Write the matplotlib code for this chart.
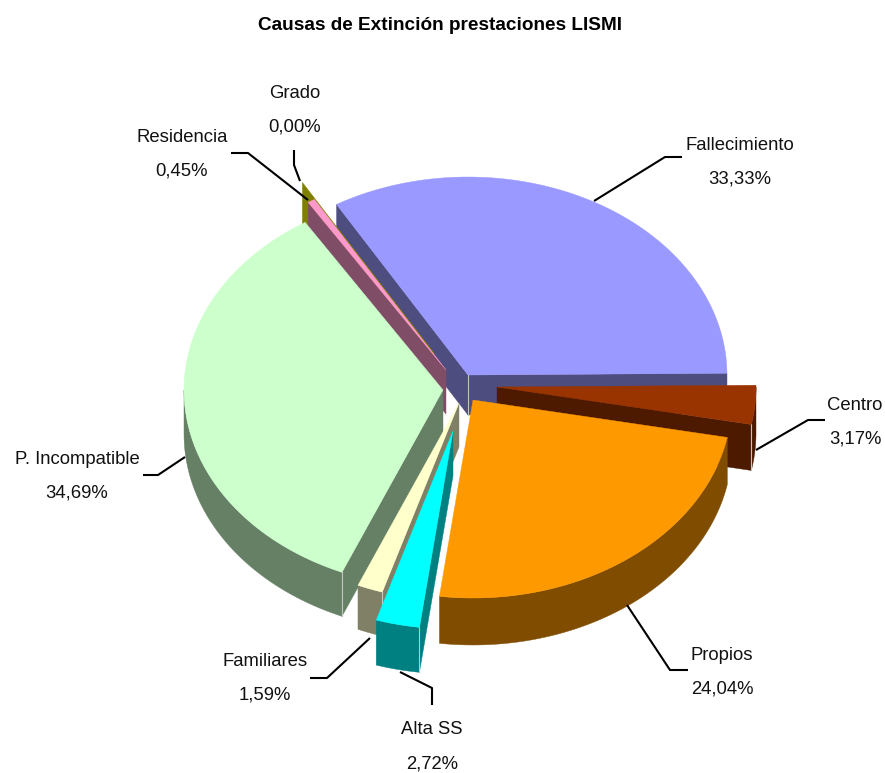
#Causas de extincion prestaciones LISMI - tarta 3D con porciones separadas
import numpy as np
import matplotlib
matplotlib.use("Agg")
import matplotlib.pyplot as plt
from matplotlib.patches import Polygon

#Datos
causas=["Fallecimiento","Centro","Propios","Alta SS","Familiares","P. Incompatible","Residencia","Grado"]
porcentajes=[33.33,3.17,24.04,2.72,1.59,34.69,0.45,0.00]

#Estilo
colores=["#9999FF","#993300","#FF9900","#00FFFF","#FFFFCC","#CCFFCC","#FF99CC","#808000"]
laterales=["#4D4D80","#4D1A00","#804D00","#008080","#808066","#668066","#804D66","#808000"]
centros=[(468,375),(497,387),(473,400),(453,431),(459,403),(443,390),(446,370),(434,353)]
alturas=[40,46,47,45,44,44,44,42]
orden=[0,7,6,5,4,3,1,2]
inicio=-30.5
radioX=259
radioY=198

#Posicion de los textos y guias
textos=[(740,145),(855,405),(722,655),(432,730),(265,661),(77,459),(182,137),(295,93)]
guias=[
    [(594,201),(665,157),(682,157)],
    [(756,450),(808,420),(825,420)],
    [(627,605),(670,670),(688,670)],
    [(400,672),(432,688),(432,705)],
    [(370,638),(327,678),(310,678)],
    [(185,457),(158,475),(143,475)],
    [(308,200),(248,153),(231,153)],
    [(300,181),(294,165),(294,150)]
]

plt.rcParams["font.family"]=["Liberation Sans","DejaVu Sans"]
fig=plt.figure(figsize=(8.85,7.73),dpi=100)
ax=fig.add_axes([0,0,1,1])
ax.set_xlim(0,885)
ax.set_ylim(773,0)
ax.axis("off")

def punto(c,ang):
    t=np.radians(ang)
    return (c[0]+radioX*np.sin(t),c[1]-radioY*np.cos(t))

def cara(puntos,color,z):
    ax.add_patch(Polygon(puntos,closed=True,facecolor=color,edgecolor=color,linewidth=0.3,zorder=z))

def arista(p,h,z):
    #linea clara en las esquinas verticales
    ax.plot([p[0],p[0]],[p[1],p[1]+h],color="#C4C4C4",lw=0.8,zorder=z)

#Angulos de cada porcion
angulos=[]
a=inicio
for p in porcentajes:
    angulos.append((a,a+p*3.6))
    a+=p*3.6

z=1
for i in orden:
    c=centros[i]
    h=alturas[i]
    a0,a1=angulos[i]
    ver0=np.cos(np.radians(a0-90))<0
    ver1=np.cos(np.radians(a1+90))<0
    #cortes laterales, solo los que miran al frente
    if ver0:
        p=punto(c,a0)
        cara([c,p,(p[0],p[1]+h),(c[0],c[1]+h)],laterales[i],z)
    if ver1:
        p=punto(c,a1)
        cara([c,p,(p[0],p[1]+h),(c[0],c[1]+h)],laterales[i],z)
    if ver0 and ver1 and a1>a0:
        arista(c,h,z+0.05)
    #borde exterior
    ini=max(a0,90)
    fin=min(a1,270)
    if fin>ini:
        arco=[punto(c,t) for t in np.linspace(ini,fin,60)]
        cara(arco+[(x,y+h) for x,y in arco[::-1]],laterales[i],z+0.1)
        if ver0:
            arista(punto(c,a0),h,z+0.15)
        if ver1:
            arista(punto(c,a1),h,z+0.15)
    #cara superior
    if a1>a0:
        sup=[c]+[punto(c,t) for t in np.linspace(a0,a1,100)]
        cara(sup,colores[i],z+0.2)
    z+=1

#Guias y etiquetas
for i in range(len(causas)):
    xs=[q[0] for q in guias[i]]
    ys=[q[1] for q in guias[i]]
    ax.plot(xs,ys,color="black",lw=1.5,zorder=20,solid_capstyle="butt")
    x,y=textos[i]
    ax.text(x,y,causas[i],ha="center",va="center",fontsize=13.3,color="#111111",zorder=21)
    ax.text(x,y+34,f"{porcentajes[i]:.2f}".replace(".",",")+"%",ha="center",va="center",fontsize=13.3,color="#111111",zorder=21)

ax.text(440,25,"Causas de Extinción prestaciones LISMI",ha="center",va="center",fontsize=13.7,fontweight="bold",color="black")

fig.savefig("out.png",dpi=100)
